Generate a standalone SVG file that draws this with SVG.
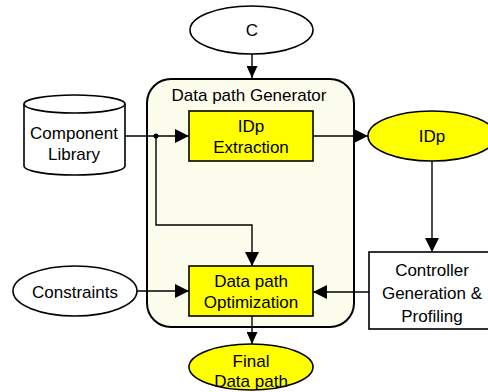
<svg xmlns="http://www.w3.org/2000/svg" width="488" height="392" viewBox="0 0 488 392">
<style>
text{font-family:"Liberation Sans",Arial,sans-serif;font-size:17px;fill:#000;text-anchor:middle}
.n{stroke:#000;stroke-width:1.6}
.c{fill:none;stroke:#000;stroke-width:1.4}
</style>
<defs>
<marker id="a" markerUnits="userSpaceOnUse" markerWidth="15" markerHeight="14" refX="14" refY="7" orient="auto">
<path d="M0,0 L14,7 L0,14 z" fill="#000"/>
</marker>
<marker id="s" markerUnits="userSpaceOnUse" markerWidth="13" markerHeight="11" refX="12" refY="5.5" orient="auto">
<path d="M0,0 L12,5.5 L0,11 z" fill="#000"/>
</marker>
</defs>
<g id="generator">
<rect x="147" y="79" width="207" height="248" rx="24" ry="24" fill="#fdfdee" stroke="#000" stroke-width="2"/>
<text x="249" y="101">Data path Generator</text>
</g>
<g id="c-input">
<ellipse cx="251.5" cy="30" rx="61.5" ry="24" fill="#fff" class="n"/>
<text x="252" y="36">C</text>
</g>
<g id="component-library">
<path d="M24,104 L24,166 A50.5,9 0 0 0 125,166 L125,104 A50.5,9 0 0 0 24,104 Z" fill="#fff" class="n"/>
<path d="M24,104 A50.5,9 0 0 0 125,104" fill="none" class="n"/>
<text x="74" y="139">Component</text>
<text x="74" y="160">Library</text>
</g>
<g id="idp-extraction">
<rect x="189" y="111" width="124" height="50" fill="#ffff00" class="n"/>
<text x="251" y="132">IDp</text>
<text x="251" y="153">Extraction</text>
</g>
<g id="idp">
<ellipse cx="432" cy="136" rx="64" ry="25" fill="#ffff00" class="n"/>
<text x="432" y="142">IDp</text>
</g>
<g id="controller">
<rect x="369" y="252" width="126" height="77" fill="#fff" class="n"/>
<text x="432" y="276">Controller</text>
<text x="432" y="299">Generation &amp;</text>
<text x="432" y="322">Profiling</text>
</g>
<g id="constraints">
<ellipse cx="75" cy="291" rx="62" ry="25" fill="#fff" class="n"/>
<text x="75" y="298">Constraints</text>
</g>
<g id="optimization">
<rect x="189" y="266" width="124" height="50" fill="#ffff00" class="n"/>
<text x="251" y="287">Data path</text>
<text x="251" y="308">Optimization</text>
</g>
<g id="final">
<ellipse cx="251" cy="367" rx="62" ry="23" fill="#ffff00" class="n"/>
<text x="251" y="367">Final</text>
<text x="251" y="387">Data path</text>
</g>
<g id="connectors">
<line x1="252" y1="54" x2="252" y2="78" class="c" marker-end="url(#s)"/>
<line x1="125" y1="136" x2="189" y2="136" class="c" marker-end="url(#a)"/>
<circle cx="156" cy="136" r="2.5" fill="#000"/>
<polyline points="156,136 156,225 252,225 252,266" class="c" marker-end="url(#a)"/>
<line x1="313" y1="136" x2="368" y2="136" class="c" marker-end="url(#a)"/>
<line x1="432" y1="161" x2="432" y2="252" class="c" marker-end="url(#a)"/>
<line x1="369" y1="292" x2="313" y2="292" class="c" marker-end="url(#a)"/>
<line x1="137" y1="291" x2="189" y2="291" class="c" marker-end="url(#a)"/>
<line x1="252" y1="316" x2="252" y2="344" class="c" marker-end="url(#s)"/>
</g>
</svg>
